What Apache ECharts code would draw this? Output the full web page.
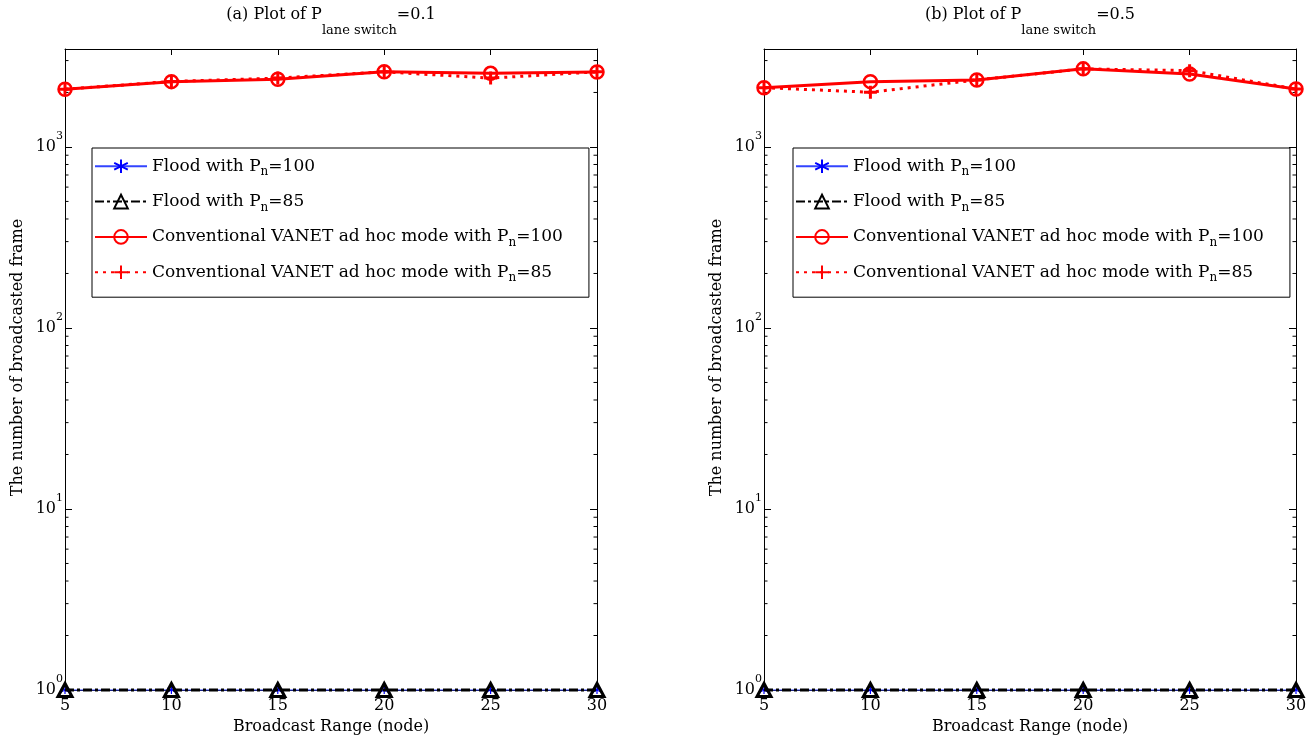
<!DOCTYPE html>
<html>
<head>
<meta charset="utf-8">
<script src="https://cdn.jsdelivr.net/npm/echarts@6/dist/echarts.min.js"></script>
<style>html,body{margin:0;padding:0;background:#fff;}#c{width:1314px;height:741px;}</style>
</head>
<body>
<div id="c"></div>
<script>
// ---- data ----
const xs = [5, 10, 15, 20, 25, 30];
const seriesNames = ['Flood with Pn=100', 'Flood with Pn=85', 'Conventional VANET ad hoc mode with Pn=100', 'Conventional VANET ad hoc mode with Pn=85'];
const titlesMain = ['(a) Plot of P', '(b) Plot of P'];
const titlesSub = ['lane switch', 'lane switch'];
const titlesTail = ['=0.1', '=0.5'];
// panel (a): P_lane switch = 0.1
const aFlood100 = [1, 1, 1, 1, 1, 1];
const aFlood85 = [1, 1, 1, 1, 1, 1];
const aConv100 = [2085, 2295, 2365, 2605, 2550, 2595];
const aConv85 = [2085, 2300, 2400, 2600, 2400, 2600];
// panel (b): P_lane switch = 0.5
const bFlood100 = [1, 1, 1, 1, 1, 1];
const bFlood85 = [1, 1, 1, 1, 1, 1];
const bConv100 = [2125, 2295, 2345, 2700, 2530, 2090];
const bConv85 = [2125, 2005, 2345, 2700, 2640, 2090];
// axes
const xMin = 5, xMax = 30, xStep = 5;
const yMin = 1, yMax = 3476;
const minorTicks = [2,3,4,5,6,7,8,9,20,30,40,50,60,70,80,90,200,300,400,500,600,700,800,900,2000,3000];
const xName = 'Broadcast Range (node)';
const yName = 'The number of broadcasted frame';

// ---- styling ----
const FONT = 'DejaVu Serif';
const gridsPx = [
  {left: 65, right: 1314 - 597, top: 49, bottom: 741 - 690},
  {left: 764, right: 1314 - 1296, top: 49, bottom: 741 - 690}
];
const asterisk = 'path://M0,-5L0,5M-4.33,-2.5L4.33,2.5M-4.33,2.5L4.33,-2.5';
const plus = 'path://M0,-5L0,5M-5,0L5,0';

function pairs(vals) { return xs.map((x, i) => [x, vals[i]]); }

const panels = [
  [aFlood100, aFlood85, aConv100, aConv85],
  [bFlood100, bFlood85, bConv100, bConv85]
];

const grid = [], xAxis = [], yAxis = [], series = [], title = [], legend = [];

panels.forEach((p, k) => {
  grid.push(Object.assign({containLabel: false}, gridsPx[k]));
  const tickStyle = {color: '#000', width: 1};
  const baseX = {
    type: 'value', gridIndex: k, min: xMin, max: xMax, interval: xStep,
    axisLine: {show: true, onZero: false, lineStyle: {color: '#000', width: 1}},
    axisTick: {show: true, inside: true, length: 6, lineStyle: tickStyle},
    splitLine: {show: false}
  };
  xAxis.push(Object.assign({}, baseX, {
    position: 'bottom',
    axisLabel: {fontFamily: FONT, fontSize: 16, color: '#000', margin: 8},
    name: xName, nameLocation: 'middle', nameGap: 28,
    nameTextStyle: {fontFamily: FONT, fontSize: 16, color: '#000'}
  }));
  xAxis.push(Object.assign({}, baseX, {position: 'top', axisLabel: {show: false}}));

  const baseY = {
    type: 'log', logBase: 10, gridIndex: k, min: yMin, max: yMax,
    axisLine: {show: true, onZero: false, lineStyle: {color: '#000', width: 1}},
    axisTick: {show: true, inside: true, length: 7, lineStyle: tickStyle},
    splitLine: {show: false}
  };
  yAxis.push(Object.assign({}, baseY, {
    position: 'left',
    axisLabel: {
      showMaxLabel: false, margin: 2, color: '#000',
      formatter: v => '{b|10}{s|' + Math.round(Math.log10(v)) + '}',
      rich: {
        b: {fontFamily: FONT, fontSize: 16, lineHeight: 32, color: '#000', verticalAlign: 'middle'},
        s: {fontFamily: FONT, fontSize: 11, lineHeight: 12, color: '#000', verticalAlign: 'top'}
      }
    },
    name: yName, nameLocation: 'middle', nameGap: 39,
    nameTextStyle: {fontFamily: FONT, fontSize: 16, color: '#000', padding: [0, 0, 0, 24]}
  }));
  yAxis.push(Object.assign({}, baseY, {position: 'right', axisLabel: {show: false}}));

  const xi = 2 * k, yi = 2 * k;
  series.push({
    name: seriesNames[0], type: 'line', xAxisIndex: xi, yAxisIndex: yi, data: pairs(p[0]),
    clip: false, z: 3,
    lineStyle: {color: '#3344ff', width: 1, type: 'solid'},
    symbol: asterisk, symbolSize: 8, showAllSymbol: true,
    itemStyle: {color: 'none', borderColor: '#0000ff', borderWidth: 1.2}
  });
  series.push({
    name: seriesNames[1], type: 'line', xAxisIndex: xi, yAxisIndex: yi, data: pairs(p[1]),
    clip: false, z: 4,
    lineStyle: {color: '#000', width: 3, type: [9, 3, 3, 3]},
    symbol: 'triangle', symbolSize: [14, 13],
    itemStyle: {color: 'none', borderColor: '#000', borderWidth: 3}
  });
  series.push({
    name: seriesNames[2], type: 'line', xAxisIndex: xi, yAxisIndex: yi, data: pairs(p[2]),
    clip: false, z: 5,
    lineStyle: {color: '#ff0000', width: 3, type: 'solid'},
    symbol: 'circle', symbolSize: 13,
    itemStyle: {color: 'none', borderColor: '#ff0000', borderWidth: 2.5}
  });
  series.push({
    name: seriesNames[3], type: 'line', xAxisIndex: xi, yAxisIndex: yi, data: pairs(p[3]),
    clip: false, z: 6,
    lineStyle: {color: '#ff0000', width: 3, type: [3, 5]},
    symbol: plus, symbolSize: 13,
    itemStyle: {color: 'none', borderColor: '#ff0000', borderWidth: 3}
  });
  // minor ticks on log axis (left and right edges), placed through the axis scale
  series.push({
    name: 'minor', type: 'custom', xAxisIndex: xi, yAxisIndex: yi, silent: true, z: 1,
    data: minorTicks.map(v => [xMin, v]),
    encode: {x: 0, y: 1},
    renderItem: (params, api) => {
      const v = api.value(1);
      const l = api.coord([xMin, v]);
      const r = api.coord([xMax, v]);
      return {type: 'group', children: [
        {type: 'line', shape: {x1: l[0], y1: l[1], x2: l[0] + 3.5, y2: l[1]}, style: {stroke: '#000', lineWidth: 1}},
        {type: 'line', shape: {x1: r[0], y1: r[1], x2: r[0] - 3.5, y2: r[1]}, style: {stroke: '#000', lineWidth: 1}}
      ]};
    }
  });

  const cx = (gridsPx[k].left + (1314 - gridsPx[k].right)) / 2;
  title.push({
    text: '{m|' + titlesMain[k] + '}{s|' + titlesSub[k] + '}{m|' + titlesTail[k] + '}',
    left: cx, top: -7, textAlign: 'center', padding: 0,
    textStyle: {
      fontWeight: 'normal',
      rich: {
        m: {fontFamily: FONT, fontSize: 16, fontWeight: 'normal', lineHeight: 44, color: '#000', verticalAlign: 'middle'},
        s: {fontFamily: FONT, fontSize: 13, fontWeight: 'normal', lineHeight: 14, color: '#000', verticalAlign: 'bottom'}
      }
    }
  });

  legend.push({
    data: seriesNames, orient: 'vertical',
    left: k === 0 ? 92 : 793, top: 148,
    itemWidth: 52, itemHeight: 17, itemGap: 14,
    padding: [9, 26, 13, 2],
    borderColor: '#000', borderWidth: 1, backgroundColor: '#fff',
    selectedMode: false,
    formatter: name => {
      const parts = name.split('Pn');
      return '{m|' + parts[0] + 'P}{s|n}{m|' + parts[1] + '}';
    },
    textStyle: {
      rich: {
        m: {fontFamily: FONT, fontSize: 17, lineHeight: 24, color: '#000', verticalAlign: 'middle'},
        s: {fontFamily: FONT, fontSize: 12, lineHeight: 12, color: '#000', verticalAlign: 'bottom'}
      }
    }
  });
});

const chart = echarts.init(document.getElementById('c'), null, {renderer: 'canvas'});
chart.setOption({
  animation: false,
  backgroundColor: '#fff',
  title, legend, grid, xAxis, yAxis, series
});
</script>
</body>
</html>
